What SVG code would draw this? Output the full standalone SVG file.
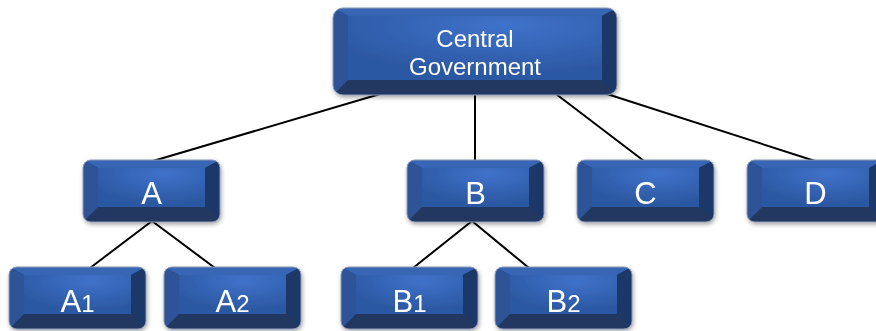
<svg xmlns="http://www.w3.org/2000/svg" xmlns:xlink="http://www.w3.org/1999/xlink" width="876" height="331" viewBox="0 0 876 331">
<style>
.lbl{font-family:"Liberation Sans",Arial,sans-serif;fill:#ffffff;text-anchor:middle;font-size:31px}
.sub{font-size:24px}
.big{font-size:24px}
.conn line{stroke:#000000;stroke-width:2;stroke-linecap:round}
.top{fill:#3866b4}.left{fill:#2d5396}.right{fill:#1f3767}.bot{fill:#233960}
.rim{fill:none;stroke:#8e9cb6;stroke-width:1}
</style>
<defs>
<radialGradient id="face" cx="0.62" cy="0.15" r="0.75">
<stop offset="0" stop-color="#3f72ca"/>
<stop offset="1" stop-color="#2c58a2"/>
</radialGradient>
<filter id="sh" x="-10%" y="-10%" width="120%" height="130%">
<feDropShadow dx="1" dy="2" stdDeviation="2" flood-color="#000" flood-opacity="0.35"/>
</filter>
<clipPath id="cs"><rect x="0" y="0" width="137" height="62" rx="8"/></clipPath>
<clipPath id="cb"><rect x="0" y="0" width="284" height="87" rx="10"/></clipPath>
<g id="box">
<g clip-path="url(#cs)">
<rect class="bot" x="0" y="0" width="137" height="62"/>
<polygon class="top" points="0,0 137,0 122,8 15,8"/>
<polygon class="left" points="0,0 15,8 15,47 0,62"/>
<polygon class="right" points="137,0 122,8 122,47 137,62"/>
<rect x="15" y="8" width="107" height="39" fill="url(#face)"/>
</g>
<rect class="rim" x="0" y="0" width="137" height="62" rx="8"/>
</g>
<g id="bigbox">
<g clip-path="url(#cb)">
<rect class="bot" x="0" y="0" width="284" height="87"/>
<polygon class="top" points="0,0 284,0 269,8 15,8"/>
<polygon class="left" points="0,0 15,8 15,72 0,87"/>
<polygon class="right" points="284,0 269,8 269,72 284,87"/>
<rect x="15" y="8" width="254" height="64" fill="url(#face)"/>
</g>
<rect class="rim" x="0" y="0" width="284" height="87" rx="10"/>
</g>
</defs>
<rect width="876" height="331" fill="#ffffff"/>
<g id="connectors" class="conn">
<line x1="380" y1="94" x2="153" y2="161"/>
<line x1="475" y1="94" x2="475" y2="161"/>
<line x1="556" y1="94" x2="644" y2="161"/>
<line x1="607" y1="94" x2="815" y2="161"/>
<line x1="152" y1="221" x2="90" y2="268"/>
<line x1="152" y1="221" x2="215" y2="268"/>
<line x1="472" y1="221" x2="413" y2="268"/>
<line x1="472" y1="221" x2="529" y2="268"/>
</g>
<g id="central" filter="url(#sh)">
<use xlink:href="#bigbox" x="333" y="8"/>
<text class="lbl big" x="475" y="47">Central</text>
<text class="lbl big" x="475" y="75">Government</text>
</g>
<g id="A" filter="url(#sh)"><use xlink:href="#box" x="83" y="160"/><text class="lbl" x="151.5" y="204">A</text></g>
<g id="B" filter="url(#sh)"><use xlink:href="#box" x="407" y="160"/><text class="lbl" x="475.5" y="204">B</text></g>
<g id="C" filter="url(#sh)"><use xlink:href="#box" x="577" y="160"/><text class="lbl" x="645.5" y="204">C</text></g>
<g id="D" filter="url(#sh)"><use xlink:href="#box" x="747" y="160"/><text class="lbl" x="815.5" y="204">D</text></g>
<g id="A1" filter="url(#sh)"><use xlink:href="#box" x="9" y="267"/><text class="lbl" x="77.5" y="312">A<tspan class="sub">1</tspan></text></g>
<g id="A2" filter="url(#sh)"><use xlink:href="#box" x="164" y="267"/><text class="lbl" x="232.5" y="312">A<tspan class="sub">2</tspan></text></g>
<g id="B1" filter="url(#sh)"><use xlink:href="#box" x="341" y="267"/><text class="lbl" x="409.5" y="312">B<tspan class="sub">1</tspan></text></g>
<g id="B2" filter="url(#sh)"><use xlink:href="#box" x="495" y="267"/><text class="lbl" x="563.5" y="312">B<tspan class="sub">2</tspan></text></g>
</svg>
